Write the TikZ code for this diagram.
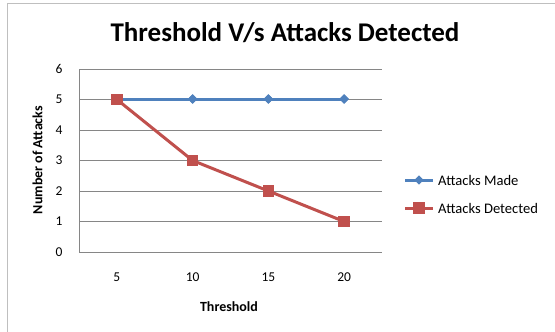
\documentclass[tikz,border=0pt]{standalone}
\usepackage{fontspec}
\setmainfont{Carlito}
\usetikzlibrary{shapes.geometric}
\definecolor{serblue}{HTML}{4F81BD}
\definecolor{serred}{HTML}{C0504D}
\definecolor{gridgray}{HTML}{868686}
\definecolor{framegray}{HTML}{BFBFBF}
\begin{document}
\begin{tikzpicture}[x=1pt,y=-1pt,
  gridline/.style={draw=gridgray,line width=1pt},
  bluemark/.style={diamond,fill=serblue,inner sep=0pt,minimum size=9.5pt},
  redmark/.style={rectangle,fill=serred,inner sep=0pt,minimum size=11.5pt},
  blueline/.style={draw=serblue,line width=3pt},
  redline/.style={draw=serred,line width=3pt},
  ticklbl/.style={font=\fontsize{13.5}{13.5}\selectfont,inner sep=0pt},
  axtitle/.style={font=\fontsize{14}{14}\selectfont\bfseries,inner sep=0pt},
  legtxt/.style={font=\fontsize{14.6}{14.6}\selectfont,anchor=west,inner sep=0pt}]
\useasboundingbox (0,0) rectangle (555,332);
\fill[white] (0,0) rectangle (555,332);
% frame
\draw[framegray,line width=1.6pt] (7.5,332) -- (7.5,3.5) -- (555,3.5);
% title
\node[font=\fontsize{27}{27}\selectfont\bfseries,inner sep=0pt] (title) at (285,33) {Threshold V/s Attacks Detected};
% grid
\foreach \v in {1,...,6}{
  \draw[gridline] (79,{252-30.5*\v}) -- (382,{252-30.5*\v});
  \node[ticklbl] (y\v) at (59,{252-30.5*\v}) {\v};
}
\node[ticklbl] (y0) at (59,252) {0};
\draw[gridline] (79,69) -- (79,252) -- (382,252);
% x labels
\node[ticklbl] (x5) at (116.9,277) {5};
\node[ticklbl] (x10) at (192.6,277) {10};
\node[ticklbl] (x15) at (268.4,277) {15};
\node[ticklbl] (x20) at (344.1,277) {20};
\node[axtitle] (xt) at (229,307) {Threshold};
\node[axtitle,rotate=90] (yt) at (37.5,160) {Number of Attacks};
% series Attacks Made
\node[bluemark] (b1) at (116.9,99) {};
\node[bluemark] (b2) at (192.6,99) {};
\node[bluemark] (b3) at (268.4,99) {};
\node[bluemark] (b4) at (344.1,99) {};
\draw[blueline] (b1.center) -- (b2.center) -- (b3.center) -- (b4.center);
\node[bluemark] at (b2) {};
\node[bluemark] at (b3) {};
\node[bluemark] at (b4) {};
% series Attacks Detected
\coordinate (r1) at (116.9,99.5);
\coordinate (r2) at (192.6,160.5);
\coordinate (r3) at (268.4,191);
\coordinate (r4) at (344.1,221.5);
\draw[redline,line join=round] (r1) -- (r2) -- (r3) -- (r4);
\node[redmark] (rm1) at (r1) {};
\node[redmark] (rm2) at (r2) {};
\node[redmark] (rm3) at (r3) {};
\node[redmark] (rm4) at (r4) {};
% legend
\coordinate (lb1) at (405,180);
\coordinate (lb2) at (433,180);
\draw[blueline] (lb1) -- (lb2);
\node[bluemark] (lbm) at (419,180) {};
\node[legtxt] (lbt) at (438,180) {Attacks Made};
\coordinate (lr1) at (405,208);
\coordinate (lr2) at (433,208);
\draw[redline] (lr1) -- (lr2);
\node[redmark] (lrm) at (419,208) {};
\node[legtxt] (lrt) at (438,208) {Attacks Detected};
\end{tikzpicture}
\end{document}
